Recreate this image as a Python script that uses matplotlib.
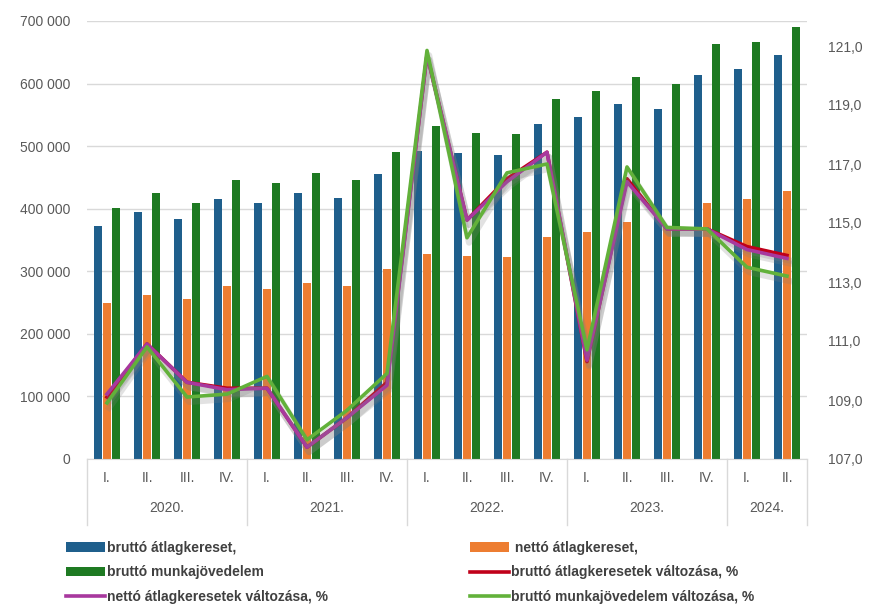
import matplotlib
matplotlib.use("Agg")
import matplotlib.pyplot as plt
import matplotlib.patheffects as pe
import matplotlib.transforms as mtransforms
from matplotlib.lines import Line2D
import numpy as np

quarters = ["I.", "II.", "III.", "IV.", "I.", "II.", "III.", "IV.", "I.", "II.", "III.", "IV.",
            "I.", "II.", "III.", "IV.", "I.", "II."]
years = ["2020.", "2021.", "2022.", "2023.", "2024."]
year_len = [4, 4, 4, 4, 2]

brutto = [372000, 395000, 383000, 415000, 409000, 425000, 417000, 455000, 492000,
          489000, 486000, 535000, 546000, 567000, 559000, 613000, 623000, 645000]
netto = [249000, 262000, 256000, 276000, 272000, 282000, 277000, 303000, 327000,
         324000, 323000, 355000, 363000, 379000, 370000, 409000, 415000, 429000]
munka = [401000, 425000, 409000, 446000, 441000, 457000, 446000, 491000, 532000,
         521000, 520000, 575000, 588000, 610000, 599000, 663000, 666000, 690000]

brutto_chg = [109.1, 110.9, 109.6, 109.4, 109.4, 107.4, 108.4, 109.6, 120.7,
              115.1, 116.5, 117.4, 110.3, 116.5, 114.8, 114.8, 114.2, 113.9]
netto_chg = [109.2, 110.9, 109.6, 109.35, 109.4, 107.4, 108.4, 109.5, 120.7,
             115.1, 116.4, 117.4, 110.35, 116.4, 114.8, 114.8, 114.1, 113.8]
munka_chg = [108.9, 110.8, 109.1, 109.2, 109.8, 107.65, 108.65, 109.9, 120.85,
             114.5, 116.7, 117.0, 110.7, 116.9, 114.85, 114.8, 113.5, 113.2]

c_blue = "#1f5f8c"
c_orange = "#ed7d31"
c_green = "#1e7a22"
c_red = "#c0001a"
c_magenta = "#a8389e"
c_lgreen = "#62b13a"
c_text = "#595959"

plt.rcParams["font.family"] = ["Liberation Sans", "DejaVu Sans"]

x = np.arange(len(quarters))

fig = plt.figure(figsize=(8.72, 6.07), dpi=100)
ax = fig.add_axes([87 / 872, 1 - 459 / 607, 720 / 872, 438 / 607])
ax2 = ax.twinx()

w = 0.19
b1 = ax.bar(x - 0.225, brutto, w, color=c_blue, zorder=2)
b2 = ax.bar(x, netto, w, color=c_orange, zorder=2)
b3 = ax.bar(x + 0.225, munka, w, color=c_green, zorder=2)

ax.set_xlim(-0.5, len(quarters) - 0.5)
ax.set_ylim(0, 700000)
ax.set_yticks(np.arange(0, 700001, 100000))
ax.set_yticklabels([f"{v:,}".replace(",", " ") for v in range(0, 700001, 100000)])
ax.grid(axis="y", color="#d9d9d9", lw=1, zorder=0)
ax.set_axisbelow(True)

shadow = [pe.SimpleLineShadow(offset=(1.5, -3.5), shadow_color="#7f7f7f", alpha=0.22, linewidth=4.5),
          pe.Normal()]
ax2.plot(x, brutto_chg, color=c_red, lw=2.6, path_effects=shadow, zorder=3)
ax2.plot(x, netto_chg, color=c_magenta, lw=2.6, path_effects=shadow, zorder=4)
ax2.plot(x, munka_chg, color=c_lgreen, lw=2.6, path_effects=shadow, zorder=5)
ax2.set_ylim(107, 107 + 438 / 29.5)
ax2.set_yticks(np.arange(107, 121.1, 2))
ax2.set_yticklabels([f"{v:.1f}".replace(".", ",") for v in np.arange(107, 121.1, 2)])

for a in (ax, ax2):
    for s in a.spines.values():
        s.set_visible(False)
    a.tick_params(length=0, labelsize=10, colors=c_text)
ax.tick_params(axis="y", pad=12)
ax2.tick_params(axis="y", pad=15)

ax.spines["bottom"].set_visible(True)
ax.spines["bottom"].set_color("#d9d9d9")

ax.set_xticks(x)
ax.set_xticklabels(quarters)
ax.tick_params(axis="x", pad=9)

trans = mtransforms.blended_transform_factory(ax.transData, ax.transAxes)
start = 0
bounds = [-0.5]
for yl, n in zip(years, year_len):
    mid = start + (n - 1) / 2
    ax.text(mid, -0.112, yl, transform=trans, ha="center", va="center",
            fontsize=10, color=c_text)
    start += n
    bounds.append(start - 0.5)
for bx in bounds:
    ax.plot([bx, bx], [0, -0.15], transform=trans, color="#d9d9d9", lw=1, clip_on=False)

# legend proxies without the shadow
h_red = Line2D([], [], color=c_red, lw=2.6)
h_mag = Line2D([], [], color=c_magenta, lw=2.6)
h_lg = Line2D([], [], color=c_lgreen, lw=2.6)

leg_font = {"family": ["Liberation Sans", "DejaVu Sans"], "size": 10, "weight": "bold"}
kw = dict(frameon=False, prop=leg_font, handlelength=2.8, handletextpad=0.15,
          labelspacing=0.75, borderaxespad=0, borderpad=0, loc="upper left")
lg1 = fig.legend([b1, b3, h_mag], ["bruttó átlagkereset,", "bruttó munkajövedelem",
                                   "nettó átlagkeresetek változása, %"],
                 bbox_to_anchor=(66 / 872, 1 - 541 / 607), **kw)
lg2 = fig.legend([b2, h_red, h_lg], [" nettó átlagkereset,", "bruttó átlagkeresetek változása, %",
                                     "bruttó munkajövedelem változása, %"],
                 bbox_to_anchor=(470 / 872, 1 - 541 / 607), **kw)
for lg in (lg1, lg2):
    for t in lg.get_texts():
        t.set_color("#404040")

fig.savefig("out.png", dpi=100)
